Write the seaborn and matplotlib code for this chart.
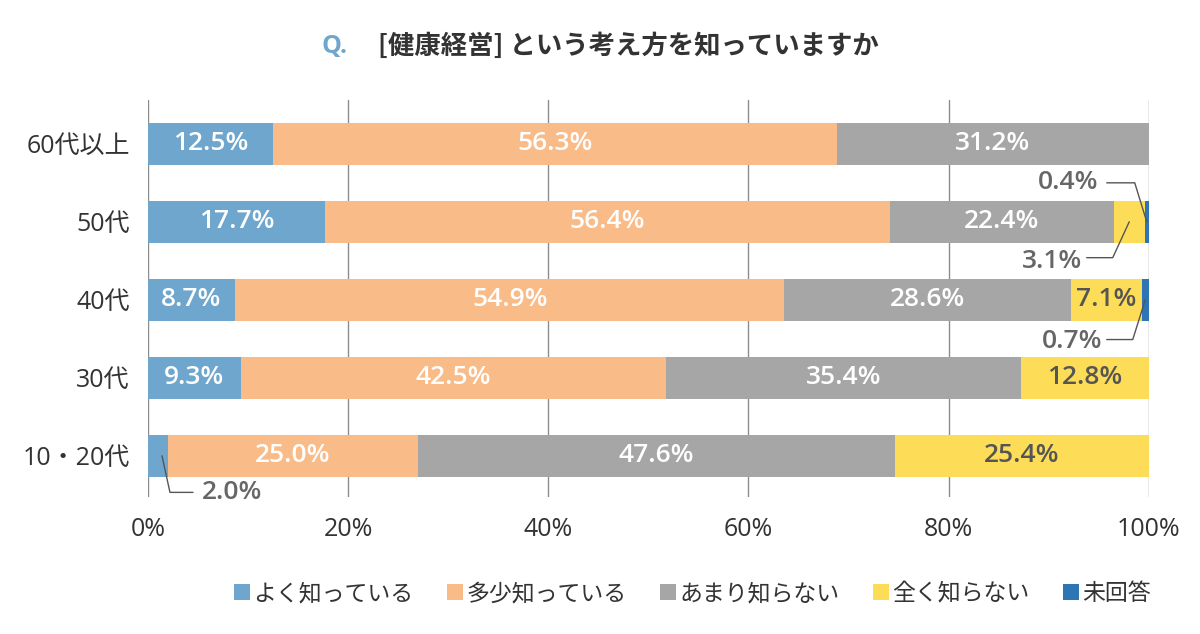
import numpy as np
import pandas as pd
import matplotlib
matplotlib.use("Agg")
import matplotlib.pyplot as plt
from matplotlib.patches import Patch
import seaborn as sns

# data
groups = ["60代以上", "50代", "40代", "30代", "10・20代"]
series = ["よく知っている", "多少知っている", "あまり知らない", "全く知らない", "未回答"]
well_known = [12.5, 17.7, 8.7, 9.3, 2.0]
somewhat = [56.3, 56.4, 54.9, 42.5, 25.0]
not_much = [31.2, 22.4, 28.6, 35.4, 47.6]
not_at_all = [0.0, 3.1, 7.1, 12.8, 25.4]
no_answer = [0.0, 0.4, 0.7, 0.0, 0.0]
colors = ["#6fa6cd", "#f9bb87", "#a6a6a6", "#fddd58", "#2e75b6"]
text_colors = ["white", "white", "white", "#555555", "white"]
x_ticks = [0, 20, 40, 60, 80, 100]

sns.set_style("white")
plt.rcParams["font.family"] = ["Open Sans", "Noto Sans CJK JP", "DejaVu Sans"]

df = pd.DataFrame({"group": groups})
for name, vals in zip(series, [well_known, somewhat, not_much, not_at_all, no_answer]):
    df[name] = vals
cum = df[series].cumsum(axis=1)

fig = plt.figure(figsize=(12, 6.34), dpi=100)
ax = fig.add_axes([0.1233, 0.216, 0.834, 0.626])

# stacked bars: draw longest cumulative first
for i in range(len(series) - 1, -1, -1):
    sns.barplot(x=cum[series[i]], y=df["group"], color=colors[i], orient="h",
                width=0.54, linewidth=0, saturation=1, ax=ax, order=groups)

ax.set_xlim(0, 100)
ax.set_ylim(4.53, -0.56)
ax.set_xticks(x_ticks)
ax.set_xticklabels([f"{t}%" for t in x_ticks], fontsize=18, color="#333333")
ax.tick_params(axis="x", length=0, pad=14)
ax.tick_params(axis="y", length=0, pad=13, labelsize=18, labelcolor="#333333")
ax.set_xlabel("")
ax.set_ylabel("")
for s in ax.spines.values():
    s.set_visible(False)
ax.set_axisbelow(True)
ax.grid(axis="x", color="#8c8c8c", lw=1)
ax.grid(axis="y", visible=False)

# value labels inside bars
small = 4.0
for r, g in enumerate(groups):
    for i, name in enumerate(series):
        v = df.loc[r, name]
        if v < small:
            continue
        center = cum.loc[r, name] - v / 2
        ax.text(center, r, f"{v:.1f}%", ha="center", va="center", fontsize=19,
                fontweight="semibold", color=text_colors[i])

# leader-line labels for small segments
callouts = [
    # (row, series index, text x, text y, line points)
    (1, 4, 91.9, 0.50, [(95.8, 0.50), (98.6, 0.50)]),
    (1, 3, 90.3, 1.51, [(93.8, 1.46), (96.4, 1.46)]),
    (2, 4, 92.3, 2.53, [(95.8, 2.51), (98.4, 2.51)]),
    (4, 0, 8.4, 4.47, [(4.5, 4.47), (2.2, 4.47)]),
]
for r, i, tx, ty, pts in callouts:
    v = df.loc[r, series[i]]
    center = cum.loc[r, series[i]] - v / 2
    xs = [p[0] for p in pts] + [center + (0.4 if r == 4 else 0)]
    ys = [p[1] for p in pts] + [r]
    ax.plot(xs, ys, color="#555555", lw=1, clip_on=False)
    ax.text(tx, ty, f"{v:.1f}%", ha="center", va="center", fontsize=19,
            fontweight="semibold", color="#666666")

# title
fig.text(0.268, 0.926, "Q.", fontsize=18, fontweight="bold", color="#6fa6cd",
         ha="left", va="center")
fig.text(0.315, 0.926, "[健康経営] という考え方を知っていますか",
         fontsize=19, fontweight="bold", color="#333333", ha="left", va="center",
         family=["Noto Sans CJK JP", "DejaVu Sans"])

# legend
handles = [Patch(facecolor=c, edgecolor="none") for c in colors]
fig.legend(handles, series, loc="center", bbox_to_anchor=(0.577, 0.063), ncol=5,
           frameon=False, fontsize=16.5, handlelength=0.7, handleheight=0.7,
           handletextpad=0.15, columnspacing=1.45, labelcolor="#333333")

fig.savefig("out.png", dpi=100)
